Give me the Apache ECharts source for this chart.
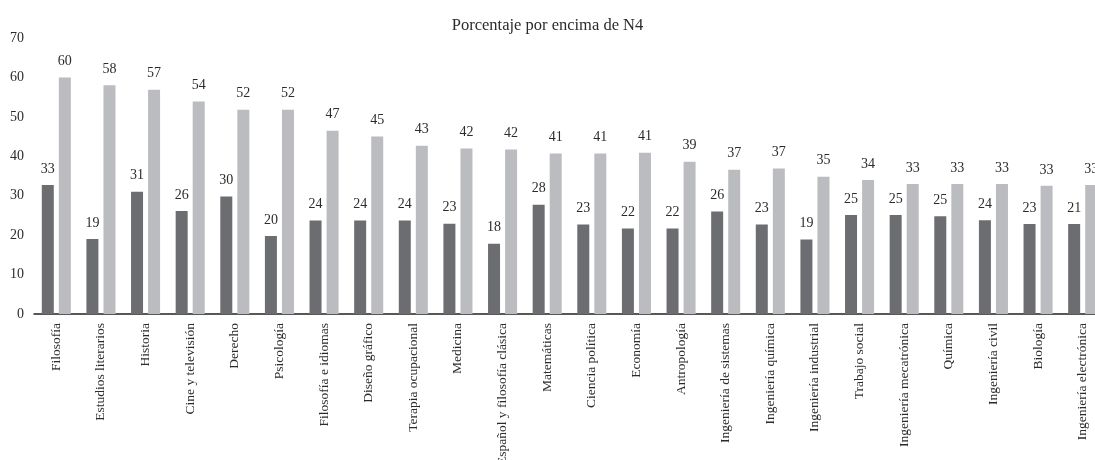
<!DOCTYPE html>
<html>
<head>
<meta charset="utf-8">
<script src="https://cdn.jsdelivr.net/npm/echarts@6/dist/echarts.min.js"></script>
<style>
  html, body { margin: 0; padding: 0; background: #fff; }
  #main { width: 1095px; height: 460px; }
</style>
</head>
<body>
<div id="main"></div>
<script>
// carreras
var categorias = ['Filosofía', 'Estudios literarios', 'Historia', 'Cine y televisión', 'Derecho', 'Psicología',
    'Filosofía e idiomas', 'Diseño gráfico', 'Terapia ocupacional', 'Medicina', 'Español y filosofía clásica',
    'Matemáticas', 'Ciencia política', 'Economía', 'Antropología', 'Ingeniería de sistemas', 'Ingeniería química',
    'Ingeniería industrial', 'Trabajo social', 'Ingeniería mecatrónica', 'Química', 'Ingeniería civil', 'Biología',
    'Ingeniería electrónica'];

// barra oscura
var valoresOscuro = [32.7, 19.0, 31.0, 26.1, 29.8, 19.8, 23.7, 23.7, 23.7, 22.9, 17.8, 27.7, 22.7, 21.7, 21.7,
    26.0, 22.7, 18.9, 25.1, 25.1, 24.8, 23.8, 22.8, 22.8];
var etiquetasOscuro = [33, 19, 31, 26, 30, 20, 24, 24, 24, 23, 18, 28, 23, 22, 22, 26, 23, 19, 25, 25, 25, 24, 23, 21];

// barra clara
var valoresClaro = [60.0, 58.0, 56.9, 53.9, 51.8, 51.8, 46.5, 45.0, 42.7, 42.0, 41.7, 40.7, 40.7, 40.9, 38.6,
    36.6, 36.9, 34.8, 34.0, 33.0, 33.0, 33.0, 32.5, 32.7];
var etiquetasClaro = [60, 58, 57, 54, 52, 52, 47, 45, 43, 42, 42, 41, 41, 41, 39, 37, 37, 35, 34, 33, 33, 33, 33, 33];

var ticksY = [0, 10, 20, 30, 40, 50, 60, 70];

var fuente = '"Liberation Serif", "DejaVu Serif", serif';

var chartDom = document.getElementById('main');
var myChart = echarts.init(chartDom);

var option = {
    animation: false,
    textStyle: { fontFamily: fuente },
    title: {
        text: 'Porcentaje por encima de N4',
        left: 'center',
        top: 12,
        textStyle: { fontFamily: fuente, fontSize: 16.5, fontWeight: 'normal', color: '#2b2b2b' }
    },
    grid: { left: 34, right: -10, top: 38, bottom: 146, containLabel: false, outerBoundsMode: 'none' },
    xAxis: {
        type: 'category',
        data: categorias,
        axisLine: { lineStyle: { color: '#222', width: 1.5 } },
        axisTick: { show: false },
        axisLabel: {
            rotate: 90,
            interval: 0,
            margin: 9,
            fontFamily: fuente,
            fontSize: 13.5,
            color: '#2b2b2b'
        }
    },
    yAxis: {
        type: 'value',
        min: ticksY[0],
        max: ticksY[ticksY.length - 1],
        interval: 10,
        axisLine: { show: false },
        axisTick: { show: false },
        splitLine: { show: false },
        axisLabel: { margin: 10, fontFamily: fuente, fontSize: 14, color: '#2b2b2b' }
    },
    series: [
        {
            name: 'oscuro',
            type: 'bar',
            data: valoresOscuro,
            barWidth: 12,
            barGap: '42%',
            itemStyle: { color: '#6c6d71' },
            label: {
                show: true,
                position: 'top',
                distance: 9,
                fontFamily: fuente,
                fontSize: 14,
                color: '#2b2b2b',
                formatter: function (p) { return etiquetasOscuro[p.dataIndex]; }
            }
        },
        {
            name: 'claro',
            type: 'bar',
            data: valoresClaro,
            barWidth: 12,
            itemStyle: { color: '#bbbcc0' },
            label: {
                show: true,
                position: 'top',
                distance: 9,
                fontFamily: fuente,
                fontSize: 14,
                color: '#2b2b2b',
                formatter: function (p) { return etiquetasClaro[p.dataIndex]; }
            }
        }
    ]
};

option && myChart.setOption(option);
</script>
</body>
</html>
